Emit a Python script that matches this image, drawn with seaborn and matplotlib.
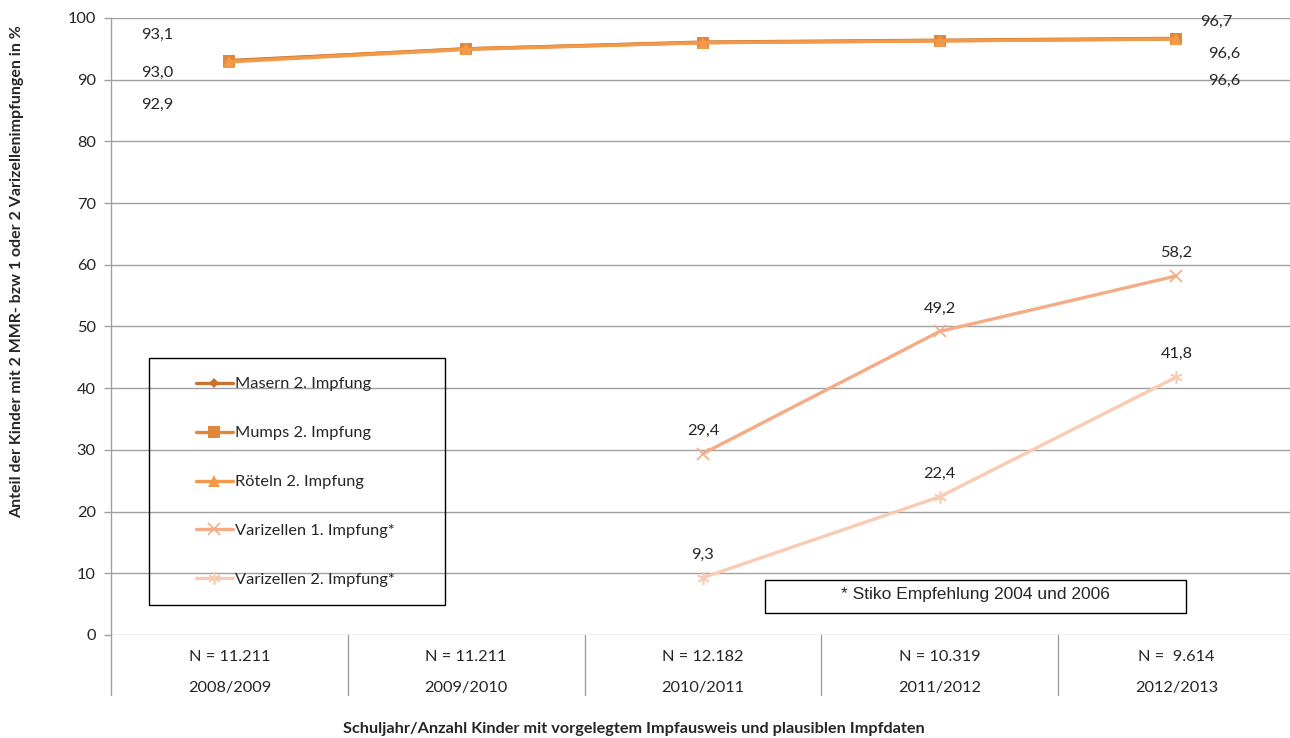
import numpy as np
import pandas as pd
import matplotlib
matplotlib.use("Agg")
import matplotlib.pyplot as plt
import matplotlib.transforms as mtransforms
from matplotlib.patches import Rectangle
import seaborn as sns

# ---- data ----
years = ["2008/2009", "2009/2010", "2010/2011", "2011/2012", "2012/2013"]
n_labels = ["N = 11.211", "N = 11.211", "N = 12.182", "N = 10.319", "N =  9.614"]
masern = [93.1, 95.0, 96.1, 96.4, 96.7]
mumps = [93.0, 95.0, 96.0, 96.3, 96.6]
roeteln = [92.9, 94.9, 96.0, 96.3, 96.6]
varizellen1 = [np.nan, np.nan, 29.4, 49.2, 58.2]
varizellen2 = [np.nan, np.nan, 9.3, 22.4, 41.8]

series_names = ["Masern 2. Impfung", "Mumps 2. Impfung", "Röteln 2. Impfung",
                "Varizellen 1. Impfung*", "Varizellen 2. Impfung*"]
series_values = [masern, mumps, roeteln, varizellen1, varizellen2]

sns.set_style("white")
plt.rcParams["font.family"] = ["Lato", "DejaVu Sans"]

FS = 11.8
styles = {
    "Masern 2. Impfung": dict(color="#C8742F", marker="D", markersize=5, mew=0),
    "Mumps 2. Impfung": dict(color="#E0873A", marker="s", markersize=8, mew=0),
    "Röteln 2. Impfung": dict(color="#F39A4A", marker="^", markersize=8, mew=0),
    "Varizellen 1. Impfung*": dict(color="#F5AB86", marker="x", markersize=8, mew=1.2),
    "Varizellen 2. Impfung*": dict(color="#F9CBB3", marker=(6, 2, 0), markersize=9, mew=1.2),
}

df = pd.DataFrame({
    "pos": np.tile(np.arange(len(years)), len(series_names)),
    "serie": np.repeat(series_names, len(years)),
    "wert": np.concatenate(series_values),
})

fig = plt.figure(figsize=(12.9, 7.38), dpi=100)
ax = fig.add_axes([111 / 1290, 1 - 635 / 738, 1183.8 / 1290, 617 / 738])

for name in series_names:
    sub = df[df["serie"] == name].dropna()
    st = styles[name]
    sns.lineplot(data=sub, x="pos", y="wert", ax=ax, color=st["color"], lw=2.4,
                 marker=st["marker"], markersize=st["markersize"],
                 markeredgewidth=st["mew"], markeredgecolor=st["color"],
                 markerfacecolor=st["color"], label=name, zorder=3)

ax.set_xlim(-0.5, len(years) - 0.5)
ax.set_ylim(0, 100)
ax.set_yticks(range(0, 101, 10))
ax.set_xticks([])
ax.set_xlabel("")
ax.set_ylabel("")
ax.grid(axis="y", color="#a0a0a0", lw=1)
for s in ["top", "right", "bottom"]:
    ax.spines[s].set_visible(False)
ax.spines["left"].set_color("#a0a0a0")
ax.spines["left"].set_linewidth(1)
ax.tick_params(axis="y", length=5, width=1, color="#a0a0a0", labelsize=FS,
               pad=6, left=True)

# category table under the plot
trans = mtransforms.blended_transform_factory(ax.transData, ax.transAxes)
for x in np.arange(-0.5, len(years) - 0.5, 1.0):
    ax.plot([x, x], [0, -0.098], transform=trans, color="#a0a0a0", lw=1, clip_on=False)
for i, (n, y) in enumerate(zip(n_labels, years)):
    ax.text(i, -0.036, n, transform=trans, ha="center", va="center", fontsize=FS)
    ax.text(i, -0.086, y, transform=trans, ha="center", va="center", fontsize=FS)

# value labels
def lab(i, v, dx, dy):
    ax.annotate(f"{v:.1f}".replace(".", ","), (i, v), xytext=(dx, -dy),
                textcoords="offset pixels", ha="center", va="center", fontsize=FS)

lab(0, masern[0], -72, -26)
lab(0, mumps[0], -72, 12)
lab(0, roeteln[0], -72, 43)
lab(4, masern[4], 40, -16)
lab(4, mumps[4], 48, 15)
lab(4, roeteln[4], 48, 42)
for vals in (varizellen1, varizellen2):
    for i, v in enumerate(vals):
        if not np.isnan(v):
            lab(i, v, 0, -23)

# legend with its own frame
fig.patches.append(Rectangle((149 / 1290, 1 - 605 / 738), 296 / 1290, 247 / 738,
                             transform=fig.transFigure, fill=False,
                             edgecolor="black", lw=1, zorder=5))
handles, labels = ax.get_legend_handles_labels()
ax.legend(handles, labels, loc="upper left", bbox_to_anchor=(196 / 1290, 1 - 377 / 738),
          bbox_transform=fig.transFigure, frameon=False, fontsize=FS,
          handlelength=2.25, handletextpad=0.15, labelspacing=2.1, borderpad=0,
          borderaxespad=0)

# footnote box
fig.patches.append(Rectangle((765 / 1290, 1 - 613 / 738), 421 / 1290, 33 / 738,
                             transform=fig.transFigure, fill=True, facecolor="white",
                             edgecolor="black", lw=1, zorder=5))
fig.text(975 / 1290, 1 - 594 / 738, "* Stiko Empfehlung 2004 und 2006",
         ha="center", va="center", fontsize=12.5, family="Liberation Sans", zorder=6)

fig.text(17 / 1290, 1 - 272 / 738,
         "Anteil der Kinder mit 2 MMR- bzw 1 oder 2 Varizellenimpfungen in %",
         rotation=90, ha="center", va="center", fontsize=11.5, fontweight="bold")
fig.text(634 / 1290, 1 - 729 / 738,
         "Schuljahr/Anzahl Kinder mit vorgelegtem Impfausweis und plausiblen Impfdaten",
         ha="center", va="center", fontsize=11.7, fontweight="bold")

fig.savefig("out.png", dpi=100)
